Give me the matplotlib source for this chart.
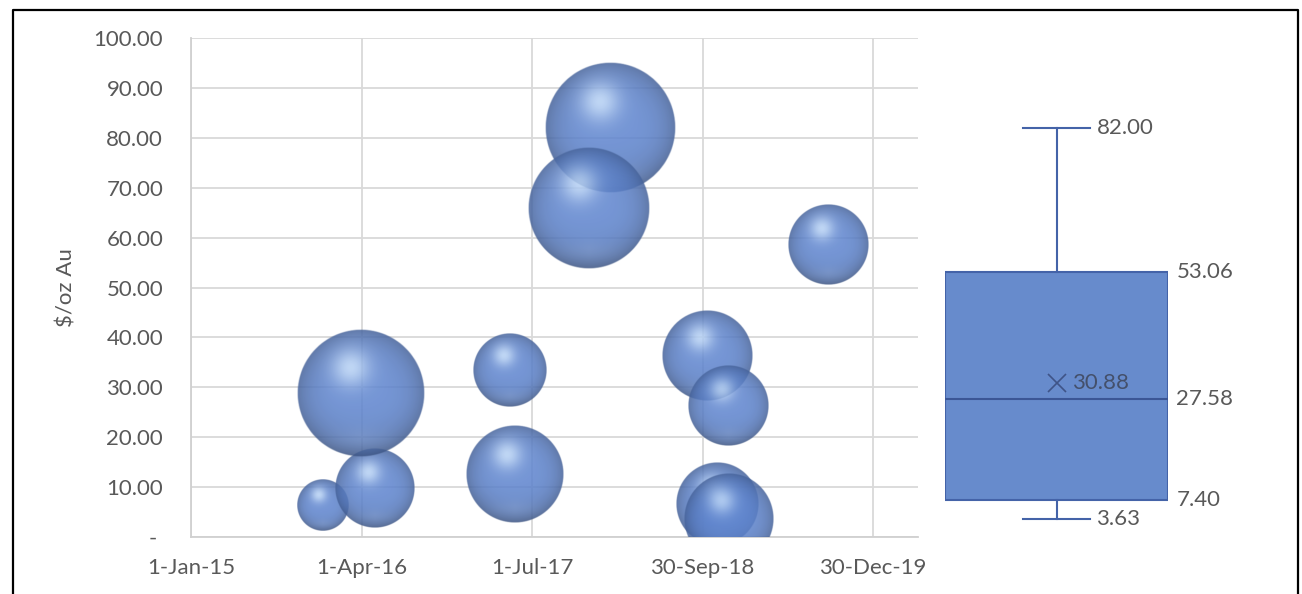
import datetime as dt

import matplotlib
matplotlib.use("Agg")
import matplotlib.dates as mdates
import matplotlib.pyplot as plt
from matplotlib.lines import Line2D
import numpy as np

# project dates, unit cost and relative bubble size
dates = ["2015-12-20", "2016-05-08", "2016-03-31", "2017-05-03", "2017-05-16", "2018-01-27",
         "2017-11-30", "2019-09-02", "2018-10-14", "2018-12-09", "2018-11-10", "2018-12-10"]
cost = [6.40, 9.80, 28.76, 33.42, 12.60, 82.00, 66.00, 58.64, 36.31, 26.40, 6.60, 3.63]
bubble_size = [15.2, 37.3, 95.5, 31.4, 56.0, 100.0, 86.7, 37.9, 48.3, 37.9, 40.1, 47.2]

tick_dates = ["2015-01-01", "2016-04-01", "2017-07-01", "2018-09-30", "2019-12-30"]
tick_labels = ["1-Jan-15", "1-Apr-16", "1-Jul-17", "30-Sep-18", "30-Dec-19"]
y_ticks = [0, 10, 20, 30, 40, 50, 60, 70, 80, 90, 100]

plt.rcParams["font.family"] = ["Lato", "DejaVu Sans"]
TXT = "#595959"
FS = 16

W, H = 1302, 594
fig = plt.figure(figsize=(W / 100, H / 100), dpi=100)

# main bubble axes, placed in pixels
ax_l, ax_r, ax_t, ax_b = 191, 918, 38, 537
ax = fig.add_axes([ax_l / W, 1 - ax_b / H, (ax_r - ax_l) / W, (ax_b - ax_t) / H])

def to_num(s):
    return mdates.date2num(dt.datetime.strptime(s, "%Y-%m-%d"))

x = np.array([to_num(d) for d in dates])
y = np.array(cost)
xt = [to_num(d) for d in tick_dates]
x0, x1 = xt[0], xt[-1] + 120
y0, y1 = 0, 100


def sphere_rgba(n=241):
    u = np.linspace(-1, 1, n)
    U, V = np.meshgrid(u, u)
    d = np.hypot(U, V)
    dc = np.clip(d, 0, 1)
    base = np.array([0.37, 0.52, 0.81])
    light = np.array([0.82, 0.91, 1.0])
    shade = 1.0 - 0.26 * dc ** 4 - 0.12 * np.clip(-V, 0, 1) ** 2
    hl = np.exp(-((U + 0.16) ** 2 + (V - 0.40) ** 2) / (2 * 0.21 ** 2))
    refl = 0.10 * np.exp(-((V + 0.72) ** 2) / (2 * 0.12 ** 2)) * np.clip(1 - np.abs(U) * 1.4, 0, 1)
    rgb = base * shade[..., None]
    rgb = rgb + (light - rgb) * (0.75 * hl + refl)[..., None]
    alpha = 0.86 * np.clip((1 - d) * 70, 0, 1)
    return np.dstack([np.clip(rgb, 0, 1), alpha])


ball = sphere_rgba()
sizes = np.array(bubble_size)
r_px = 0.1312 * (ax_b - ax_t) * np.sqrt(sizes / sizes.max())
days_per_px = (x1 - x0) / (ax_r - ax_l)
val_per_px = (y1 - y0) / (ax_b - ax_t)
for xi, yi, r in zip(x, y, r_px):
    rx, ry = r * days_per_px, r * val_per_px
    ax.imshow(ball, extent=[xi - rx, xi + rx, yi - ry, yi + ry], origin="lower",
              aspect="auto", interpolation="bilinear", zorder=3)

ax.set_xlim(x0, x1)
ax.set_ylim(y0, y1)
ax.set_xticks(xt, tick_labels)
ax.set_yticks(y_ticks, [f"{v:.2f}" if v else "- " for v in y_ticks])
ax.grid(True, color="#d9d9d9", lw=1.3, zorder=0)
ax.set_axisbelow(True)
for s in ["top", "right"]:
    ax.spines[s].set_visible(False)
for s in ["left", "bottom"]:
    ax.spines[s].set_color("#d0d0d0")
    ax.spines[s].set_linewidth(1.3)
ax.tick_params(length=0, labelsize=FS, colors=TXT)
ax.tick_params(axis="y", pad=20)
ax.tick_params(axis="x", pad=15)
ax.set_ylabel("$/oz Au", fontsize=FS, color=TXT)
ax.yaxis.set_label_coords((76 - ax_l) / (ax_r - ax_l), 0.5)

# box and whisker of the same costs (exclusive quartiles)
q1, med, q3 = np.percentile(y, [25, 50, 75], method="weibull")
stats = dict(whislo=y.min(), q1=q1, med=med, q3=q3, whishi=y.max(), mean=y.mean(), fliers=[])

bx_l, bx_r = 945, 1168
bax = fig.add_axes([bx_l / W, 1 - ax_b / H, (bx_r - bx_l) / W, (ax_b - ax_t) / H])
edge = "#4463a8"
bax.bxp([stats], positions=[1], widths=[1.0], capwidths=[0.296], patch_artist=True,
        showmeans=True,
        boxprops=dict(facecolor="#678bcc", edgecolor=edge, linewidth=1.5),
        medianprops=dict(color="#3b5696", linewidth=1.5),
        whiskerprops=dict(color=edge, linewidth=1.5),
        capprops=dict(color=edge, linewidth=1.5),
        meanprops=dict(marker="x", markersize=13, markeredgecolor="#3f5487",
                       markeredgewidth=1.2))
bax.set_xlim(0.5, 1.5)
bax.set_ylim(y0, y1)
bax.axis("off")

for v in (stats["whislo"], stats["whishi"]):
    bax.annotate(f"{v:.2f}", (1.148, v), xytext=(5, 0), textcoords="offset points",
                 va="center", ha="left", fontsize=FS, color=TXT, annotation_clip=False)
for v in (q1, med, q3):
    bax.annotate(f"{v:.2f}", (1.5, v), xytext=(6, 0), textcoords="offset points",
                 va="center", ha="left", fontsize=FS, color=TXT, annotation_clip=False)
bax.annotate(f"{stats['mean']:.2f}", (1.0, stats["mean"]), xytext=(11, 0),
             textcoords="offset points", va="center", ha="left", fontsize=FS,
             color="#44506b")

# outer frame (open at the bottom)
fx0, fx1, fy = 12.5 / W, 1297.5 / W, 1 - 9.5 / H
fig.add_artist(Line2D([fx0, fx0, fx1, fx1], [0, fy, fy, 0], color="black", lw=1.6,
                      transform=fig.transFigure))

fig.savefig("out.png", dpi=100)
